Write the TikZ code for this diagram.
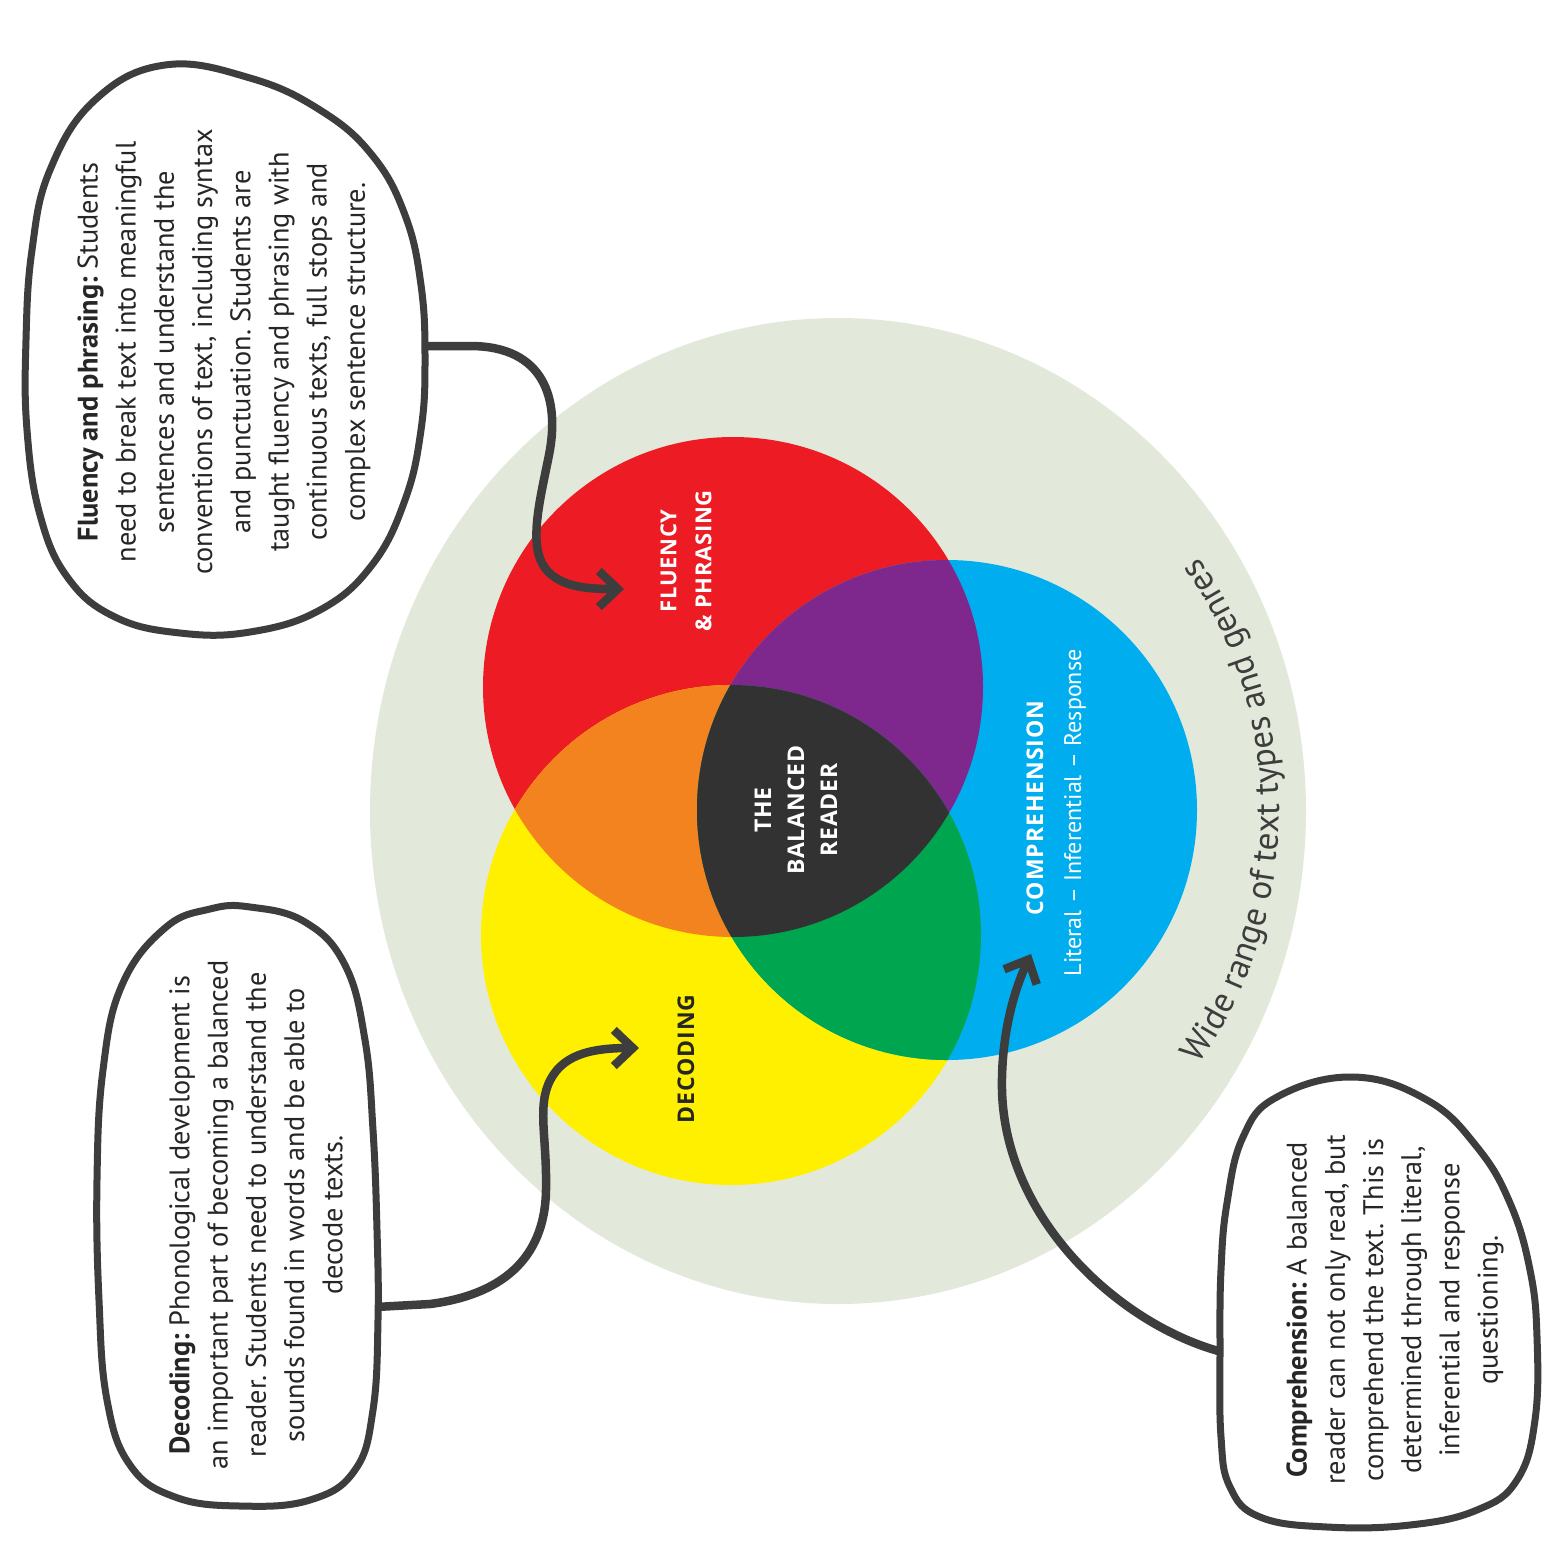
\documentclass[tikz,border=0pt]{standalone}
\usepackage{fontspec}
\setmainfont{PT Sans}
\newfontfamily\labelfont{Open Sans}
\usetikzlibrary{arrows.meta,decorations.text}
\definecolor{pale}{HTML}{E3E9DA}
\definecolor{vred}{HTML}{ED1C24}
\definecolor{vyellow}{HTML}{FFF000}
\definecolor{vblue}{HTML}{00AEEF}
\definecolor{vorange}{HTML}{F3831F}
\definecolor{vpurple}{HTML}{7E288E}
\definecolor{vgreen}{HTML}{00A54F}
\definecolor{vcenter}{HTML}{323232}
\definecolor{ink}{HTML}{3D3D3D}
\definecolor{txt}{HTML}{262626}
\frenchspacing
\tikzset{
  blob/.style={draw=ink, line width=7pt, fill=white},
  link/.style={draw=ink, line width=8.5pt, -{Straight Barb[length=19pt,width=36pt]}},
  bodytext/.style={rotate=90, align=center, inner sep=0pt, text=txt, font=\fontsize{28.3}{38.2}\selectfont},
  vennlabel/.style={rotate=90, align=center, inner sep=0pt, font=\labelfont\bfseries\fontsize{23}{34}\selectfont\addfontfeature{LetterSpace=4}},
}
\begin{document}
\begin{tikzpicture}[x=1pt,y=-1pt]
\useasboundingbox (0,0) rectangle (1558,1564);
\fill[white] (0,0) rectangle (1558,1564);

% centres
\coordinate (cO) at (838,811);
\coordinate (cR) at (733,687);
\coordinate (cY) at (731,935);
\coordinate (cB) at (947,810);

% background ring
\fill[pale] (cO) ellipse [x radius=468, y radius=493];
\path[decorate, decoration={text along path, text align=center,
  text={|\fontsize{35}{35}\selectfont\color{ink}|Wide range of text types and genres}}]
  (cO) ++(42:441) arc[start angle=42, end angle=-42, radius=441];

% Venn circles
\fill[vred] (cR) circle[radius=250];
\fill[vyellow] (cY) circle[radius=250];
\fill[vblue] (cB) circle[radius=250];
\begin{scope}
  \clip (cR) circle[radius=250];
  \fill[vorange] (cY) circle[radius=250];
  \fill[vpurple] (cB) circle[radius=250];
\end{scope}
\begin{scope}
  \clip (cY) circle[radius=250];
  \clip (cB) circle[radius=250];
  \fill[vgreen] (400,400) rectangle (1300,1300);
  \clip (cR) circle[radius=250];
  \fill[vcenter] (400,400) rectangle (1300,1300);
\end{scope}

% Venn labels
\node[vennlabel, text=white, font=\labelfont\bfseries\fontsize{22}{35}\selectfont\addfontfeature{LetterSpace=3}] (flabel) at (686,561) {FLUENCY\\\& PHRASING};
\node[vennlabel, text=white, font=\labelfont\bfseries\fontsize{23}{33}\selectfont\addfontfeature{LetterSpace=4}] (blabel) at (796,810) {THE\\BALANCED\\READER};
\node[vennlabel, text=white] (ctitle) at (1035,808) {COMPREHENSION};
\node[rotate=90, inner sep=0pt, text=white, font=\fontsize{24}{26}\selectfont] (csub) at (1075,813) {Literal – Inferential – Response};
\node[vennlabel, text=txt] (dlabel) at (686,1059) {DECODING};

% callout blobs
\draw[blob] plot[smooth cycle, tension=0.7] coordinates {(165,65) (250,78) (320,110) (372,155) (405,215) (421,285) (425,360) (421,430) (405,500) (372,565) (320,610) (250,632) (180,633) (115,617) (68,578) (40,515) (27,430) (26,340) (32,250) (50,170) (95,100)};
\draw[blob] plot[smooth cycle, tension=0.7] coordinates {(250,907) (305,922) (345,965) (365,1040) (373,1130) (377,1230) (378,1320) (373,1410) (355,1470) (310,1500) (240,1506) (175,1497) (130,1465) (107,1400) (99,1300) (97,1180) (103,1070) (122,985) (165,928) (210,909)};
\draw[blob] plot[smooth cycle, tension=0.7] coordinates {(1353,1077) (1427,1100) (1477,1147) (1510,1203) (1530,1270) (1537,1337) (1535,1420) (1517,1480) (1477,1510) (1410,1525) (1327,1527) (1260,1517) (1230,1487) (1221,1437) (1220,1350) (1221,1270) (1227,1203) (1243,1137) (1277,1097)};

% callout texts
\node[bodytext] (ftext) at (224,352) {\textbf{Fluency and phrasing:} Students\\need to break text into meaningful\\sentences and understand the\\conventions of text, including syntax\\and punctuation. Students are\\taught fluency and phrasing with\\continuous texts, full stops and\\complex sentence structure.};
\node[bodytext] (dtext) at (256,1215) {\textbf{Decoding:} Phonological development is\\an important part of becoming a balanced\\reader. Students need to understand the\\sounds found in words and be able to\\decode texts.};
\node[bodytext] (ctext) at (1395,1310) {\textbf{Comprehension:} A balanced\\reader can not only read, but\\comprehend the text. This is\\determined through literal,\\inferential and response\\questioning.};

% connectors
\coordinate (fexit) at (423,346);
\coordinate (ftip) at (624,589);
\coordinate (dexit) at (376,1307);
\coordinate (dtip) at (639,1048);
\coordinate (cexit) at (1222,1352);
\coordinate (ctip) at (1031,954);
\draw[link] (fexit) -- (470,346) .. controls (545,346) and (560,400) .. (549,455) .. controls (540,500) and (528,545) .. (545,568) .. controls (560,588) and (590,589) .. (ftip);
\draw[link] (dexit) -- (430,1304) .. controls (500,1295) and (545,1260) .. (546,1190) .. controls (547,1140) and (538,1110) .. (548,1085) .. controls (560,1055) and (590,1048) .. (dtip);
\draw[link] (cexit) .. controls (1120,1325) and (1005,1220) .. (1002,1090) .. controls (1001,1040) and (1012,995) .. (ctip);
\end{tikzpicture}
\end{document}
